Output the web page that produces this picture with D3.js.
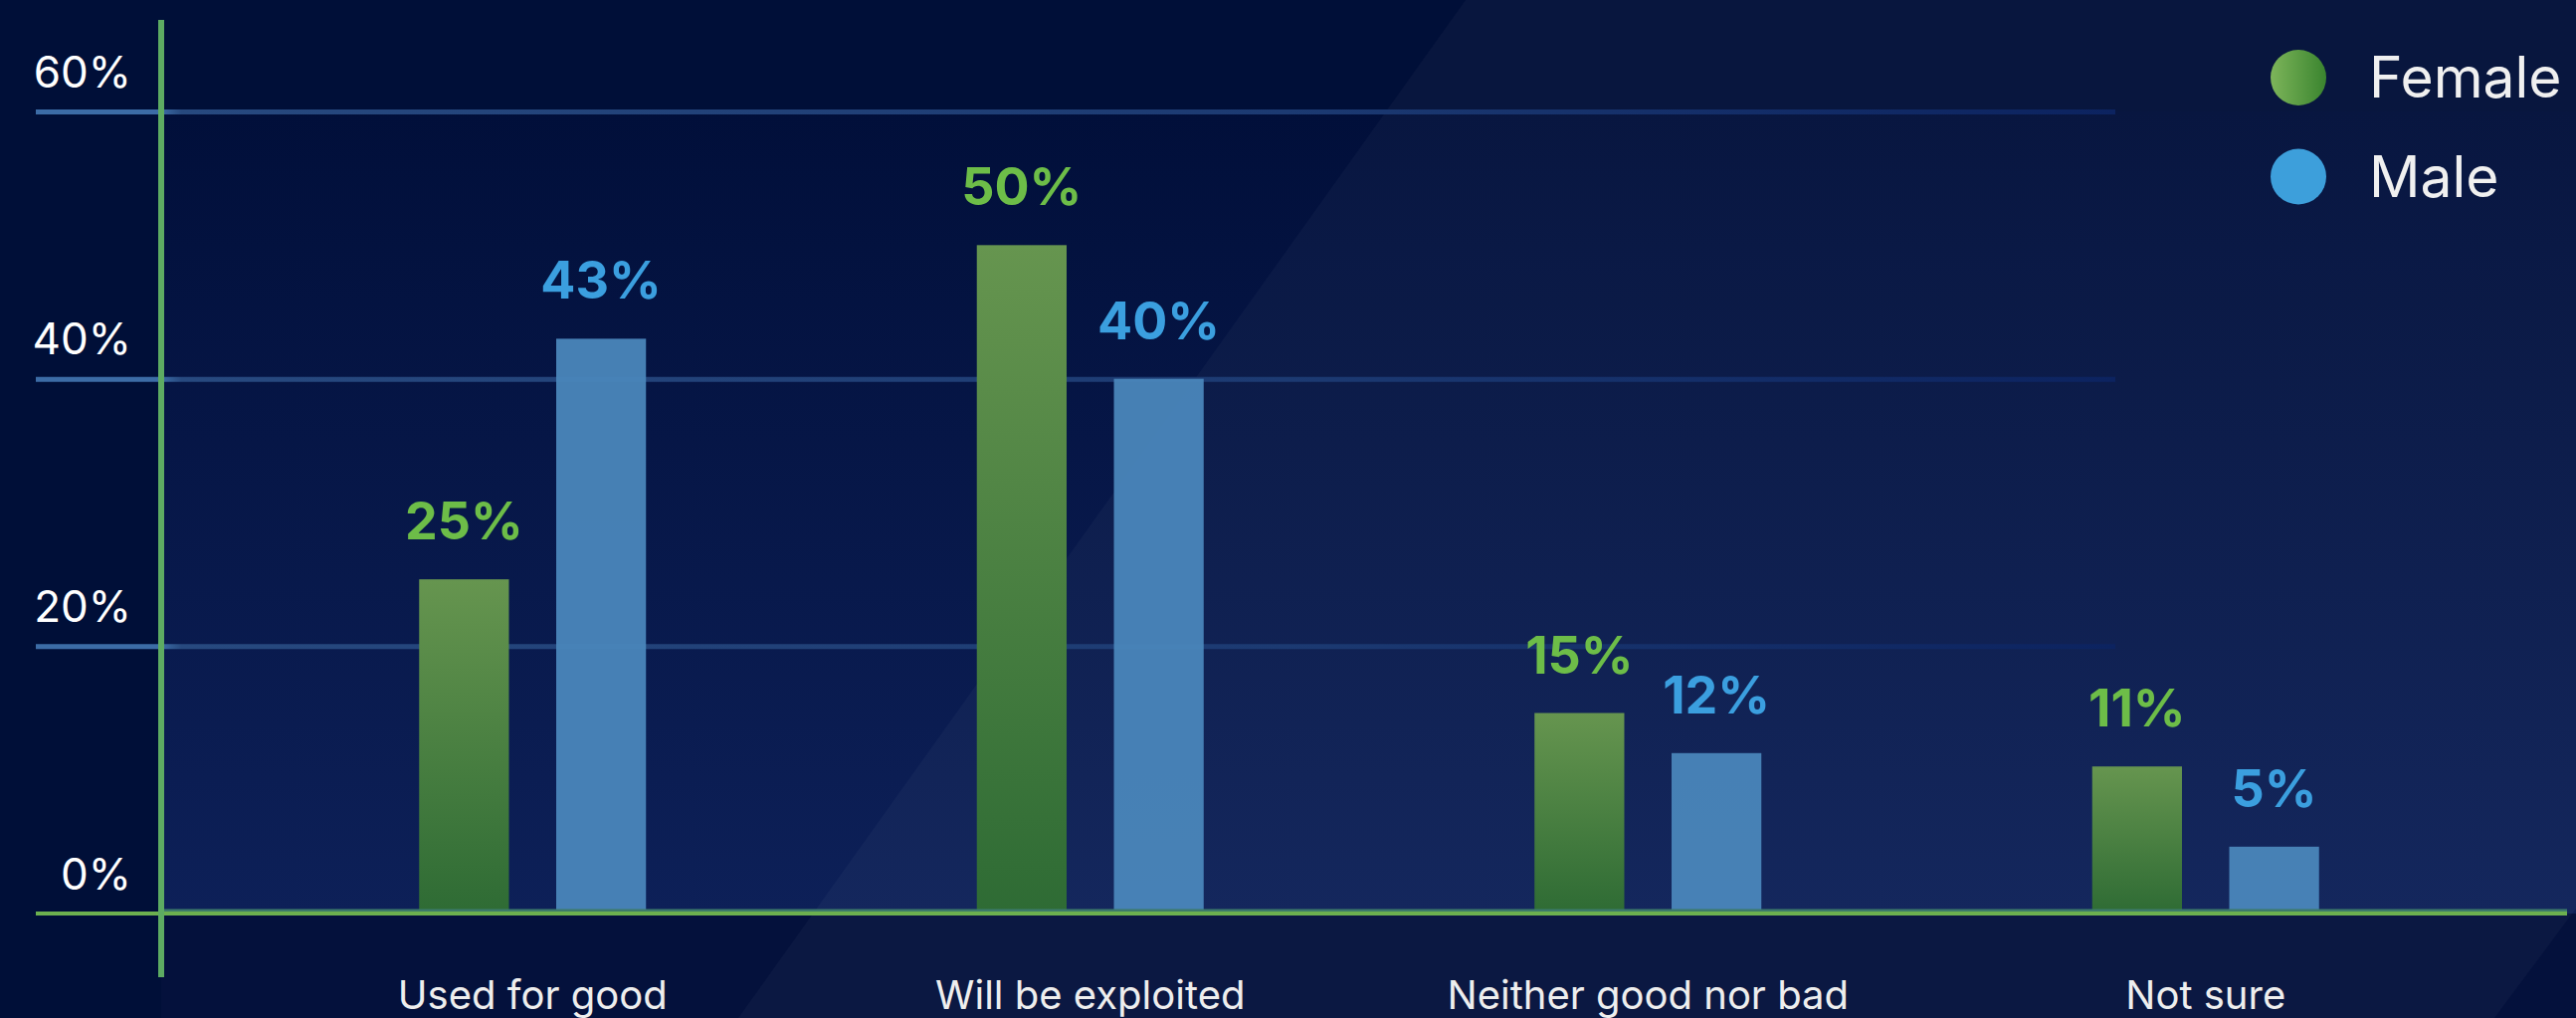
<!DOCTYPE html>
<html>
<head>
<meta charset="utf-8">
<script src="https://cdn.jsdelivr.net/npm/d3@7"></script>
<style>
  html, body { margin: 0; padding: 0; background: #000f38; overflow: hidden; }
  svg { display: block; font-family: Inter, "Noto Sans", sans-serif; }
</style>
</head>
<body>
<div id="chart"></div>
<script>
// ---- data ----
const categories = ["Used for good", "Will be exploited", "Neither good nor bad", "Not sure"];
const groups = ["Female", "Male"];
const femaleValues = [25, 50, 15, 11];
const maleValues = [43, 40, 12, 5];
const yTicks = [0, 20, 40, 60];
const gridTicks = [20, 40, 60];

const width = 2589, height = 1023;

// rows for the grouped bars
let rows = [];
categories.forEach((c, i) => {
  rows.push({ cat: c, group: "Female", value: femaleValues[i] });
  rows.push({ cat: c, group: "Male", value: maleValues[i] });
});

const svg = d3.select("#chart").append("svg")
  .attr("width", width)
  .attr("height", height);

// scales
const x0 = d3.scaleBand().domain(categories).range([255, 2497]).padding(0);
const x1 = d3.scaleBand().domain(groups)
  .range([x0.bandwidth() / 2 - 114, x0.bandwidth() / 2 + 114])
  .paddingInner(0.345);
const y = d3.scaleLinear().domain([0, 60]).range([918, 112]);

const axisX = 162;      // vertical axis line
const gridLeft = 36;

// gradients
const defs = svg.append("defs");

const plotGrad = defs.append("linearGradient").attr("id", "plotGrad")
  .attr("x1", 0).attr("y1", 0).attr("x2", 0).attr("y2", 1);
plotGrad.append("stop").attr("offset", "0%").attr("stop-color", "#010f3a");
plotGrad.append("stop").attr("offset", "100%").attr("stop-color", "#0d2058");

const femaleGrad = defs.append("linearGradient").attr("id", "femaleGrad")
  .attr("x1", 0).attr("y1", 0).attr("x2", 0).attr("y2", 1);
femaleGrad.append("stop").attr("offset", "0%").attr("stop-color", "#66954f");
femaleGrad.append("stop").attr("offset", "100%").attr("stop-color", "#2e6b34");

const dotGrad = defs.append("linearGradient").attr("id", "dotGrad")
  .attr("x1", 0).attr("y1", 0).attr("x2", 1).attr("y2", 0);
dotGrad.append("stop").attr("offset", "0%").attr("stop-color", "#7db55a");
dotGrad.append("stop").attr("offset", "100%").attr("stop-color", "#3a842f");

const gridGrad = defs.append("linearGradient").attr("id", "gridGrad")
  .attr("gradientUnits", "userSpaceOnUse")
  .attr("x1", 0).attr("y1", 0).attr("x2", 2090).attr("y2", 0);
gridGrad.append("stop").attr("offset", "0%").attr("stop-color", "#3c6ca6");
gridGrad.append("stop").attr("offset", "6%").attr("stop-color", "#3c6ca6");
gridGrad.append("stop").attr("offset", "7%").attr("stop-color", "#27497f");
gridGrad.append("stop").attr("offset", "60%").attr("stop-color", "#1c3a72");
gridGrad.append("stop").attr("offset", "100%").attr("stop-color", "#0c2360");

// background
svg.append("rect").attr("width", width).attr("height", height).attr("fill", "#000f38");

// below-baseline band, a touch lighter
svg.append("rect")
  .attr("x", axisX).attr("y", y(0))
  .attr("width", width - axisX).attr("height", height - y(0))
  .attr("fill", "#04113c");

// plot area with vertical gradient
svg.append("rect")
  .attr("x", axisX).attr("y", y(60))
  .attr("width", width - axisX).attr("height", y(0) - y(60))
  .attr("fill", "url(#plotGrad)");

// diagonal light band
svg.append("polygon")
  .attr("points", [[1473, 0], [width, 0], [width, 913], [2507, height], [742, height]].join(" "))
  .attr("fill", "#ffffff")
  .attr("opacity", 0.03);

// gridlines via axis
const grid = svg.append("g")
  .attr("class", "grid")
  .attr("transform", `translate(${gridLeft},0)`)
  .call(d3.axisLeft(y).tickValues(gridTicks).tickSize(-2090).tickFormat(""));
grid.select(".domain").remove();
grid.selectAll("line")
  .attr("stroke", "url(#gridGrad)")
  .attr("stroke-width", 5);

// bars
const barGroups = svg.append("g").selectAll("g")
  .data(categories)
  .enter()
  .append("g")
  .attr("transform", d => `translate(${x0(d)},0)`);

barGroups.selectAll("rect")
  .data(c => rows.filter(r => r.cat === c))
  .enter()
  .append("rect")
  .attr("x", d => x1(d.group))
  .attr("y", d => y(d.value))
  .attr("width", x1.bandwidth())
  .attr("height", d => y(0) - y(d.value))
  .attr("fill", d => d.group === "Female" ? "url(#femaleGrad)" : "#4a86bb")
  .attr("opacity", d => d.group === "Female" ? 1 : 0.95);

// value labels
barGroups.selectAll("text")
  .data(c => rows.filter(r => r.cat === c))
  .enter()
  .append("text")
  .attr("x", d => x1(d.group) + x1.bandwidth() / 2)
  .attr("y", d => y(d.value) - 40)
  .attr("text-anchor", "middle")
  .attr("font-size", 52)
  .attr("font-weight", 700)
  .attr("fill", d => d.group === "Female" ? "#6dbd48" : "#3b9fdf")
  .text(d => d.value + "%");

// baseline
svg.append("line")
  .attr("x1", axisX).attr("x2", 2580)
  .attr("y1", y(0) - 3).attr("y2", y(0) - 3)
  .attr("stroke", "#3c7a6a").attr("stroke-width", 3);
svg.append("line")
  .attr("x1", gridLeft).attr("x2", 2580)
  .attr("y1", y(0)).attr("y2", y(0))
  .attr("stroke", "#6cb04f").attr("stroke-width", 4);

// vertical axis line
svg.append("line")
  .attr("x1", axisX).attr("x2", axisX)
  .attr("y1", 20).attr("y2", 982)
  .attr("stroke", "#5dab62").attr("stroke-width", 6);

// y tick labels
const yAxis = svg.append("g")
  .attr("transform", "translate(132,-25)")
  .call(d3.axisLeft(y).tickValues(yTicks).tickSize(0).tickPadding(0).tickFormat(d => d + "%"));
yAxis.select(".domain").remove();
yAxis.selectAll("text")
  .attr("x", 0)
  .attr("dy", 0)
  .attr("fill", "#ffffff")
  .attr("font-size", 44)
  .attr("font-family", "Inter, sans-serif");

// category labels
const xAxis = svg.append("g")
  .attr("transform", "translate(0,1014)")
  .call(d3.axisBottom(x0).tickSize(0).tickPadding(0));
xAxis.select(".domain").remove();
xAxis.selectAll("text")
  .attr("y", 0)
  .attr("dy", 0)
  .attr("fill", "#eeeeee")
  .attr("font-size", 40)
  .attr("font-family", "Inter, sans-serif");

// legend
const legend = svg.append("g").attr("class", "legend");
const legendItems = legend.selectAll("g")
  .data(groups)
  .enter()
  .append("g")
  .attr("transform", (d, i) => `translate(2310, ${78 + i * 99.5})`);

legendItems.append("circle")
  .attr("r", 28)
  .attr("fill", d => d === "Female" ? "url(#dotGrad)" : "#3d9fdb");

legendItems.append("text")
  .attr("x", 71)
  .attr("y", 20)
  .attr("font-size", 57)
  .attr("fill", "#f0f0f0")
  .text(d => d);
</script>
</body>
</html>
